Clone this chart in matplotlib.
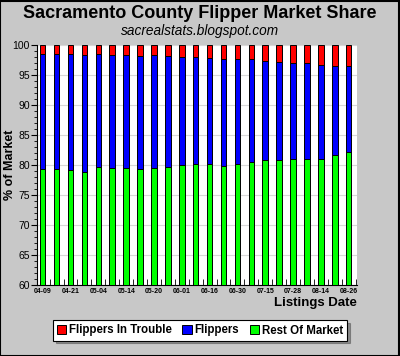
import numpy as np
import matplotlib
matplotlib.use("Agg")
from matplotlib import pyplot
from matplotlib.patches import Rectangle

# listing dates (only every other one is labelled on the axis)
dates = ["04-09", "", "04-21", "", "05-04", "", "05-14", "", "05-20", "", "06-01", "",
         "06-16", "", "06-30", "", "07-15", "", "07-28", "", "08-14", "", "08-26"]

# % of market
rest_of_market = [79.3, 79.3, 79.1, 78.9, 79.7, 79.45, 79.45, 79.3, 79.45, 79.7, 80.0, 80.1,
                  80.2, 79.9, 80.2, 80.45, 80.8, 80.9, 81.05, 81.05, 81.05, 81.6, 82.1]
flippers_top = [98.45, 98.45, 98.45, 98.3, 98.45, 98.3, 98.3, 98.1, 98.3, 98.1, 97.95, 97.95,
                97.8, 97.6, 97.6, 97.6, 97.4, 97.2, 97.05, 96.95, 96.7, 96.5, 96.5]

rest = np.array(rest_of_market)
flippers = np.array(flippers_top) - rest
trouble = 100 - np.array(flippers_top)

bg = "#c8c8c8"
pyplot.rcParams['font.family'] = ['Liberation Sans', 'DejaVu Sans']

fig = pyplot.figure(figsize=(4.0, 3.56), dpi=100, facecolor=bg)
ax = fig.add_axes([37 / 400, 1 - 285 / 356, 320 / 400, 240 / 356])

x = np.arange(len(dates))
w = 0.4
ax.bar(x, rest, width=w, color="#00ff00", edgecolor="black", linewidth=0.7, label="Rest Of Market", zorder=3)
ax.bar(x, flippers, width=w, bottom=rest, color="#0000ff", edgecolor="black", linewidth=0.7,
       label="Flippers", zorder=3)
ax.bar(x, trouble, width=w, bottom=rest + flippers, color="#ff0000", edgecolor="black", linewidth=0.7,
       label="Flippers In Trouble", zorder=3)

ax.set_ylim(60, 100)
ax.set_xlim(-0.41, 22.6)
ax.set_yticks(np.arange(60, 101, 5))
ax.set_yticks(np.arange(60, 101, 1), minor=True)
ax.tick_params(axis='y', which='major', labelsize=7.5, length=4, width=0.8, pad=1)
ax.tick_params(axis='y', which='minor', length=2, width=0.6)
ax.set_xticks(x)
ax.set_xticklabels(dates, fontsize=5, fontweight='bold')
ax.set_xticks(x + 0.5, minor=True)
ax.tick_params(axis='x', which='major', length=0, pad=2)
ax.tick_params(axis='x', which='minor', direction='in', length=4, width=0.6)
ax.grid(axis='y', which='major', color="#d8d8d8", linewidth=0.8, zorder=0)
ax.set_axisbelow(True)

for side in ['top', 'right']:
    ax.spines[side].set_visible(False)
for side in ['left', 'bottom']:
    ax.spines[side].set_linewidth(0.8)

ax.set_ylabel("% of Market", fontsize=9, fontweight='bold')
ax.yaxis.set_label_coords(-21 / 320, 0.5)
fig.text(357 / 400, 1 - 303 / 356, "Listings Date", ha='right', va='center', fontsize=9.5, fontweight='bold')

fig.text(0.5, 1 - 13 / 356, "Sacramento County Flipper Market Share", ha='center', va='center',
         fontsize=13, fontweight='bold')
fig.text(0.5, 1 - 31 / 356, "sacrealstats.blogspot.com", ha='center', va='center',
         fontsize=9.8, style='italic')

handles, labels = ax.get_legend_handles_labels()
leg = ax.legend(handles[::-1], labels[::-1], loc='center', bbox_to_anchor=(0.5, 1 - 330.5 / 356),
                bbox_transform=fig.transFigure, ncol=3, fancybox=False, shadow=True, framealpha=1,
                edgecolor="black", facecolor="white", prop={'size': 8.3, 'weight': 'bold'},
                handlelength=0.8, handleheight=0.8, handletextpad=0.25, columnspacing=0.9,
                borderpad=0.35)
leg.get_frame().set_linewidth(0.8)

fig.patches.append(Rectangle((0.001, 0.001), 0.997, 0.997, transform=fig.transFigure,
                             fill=False, edgecolor="black", linewidth=1.5))

fig.savefig("out.png", dpi=100, facecolor=bg)
